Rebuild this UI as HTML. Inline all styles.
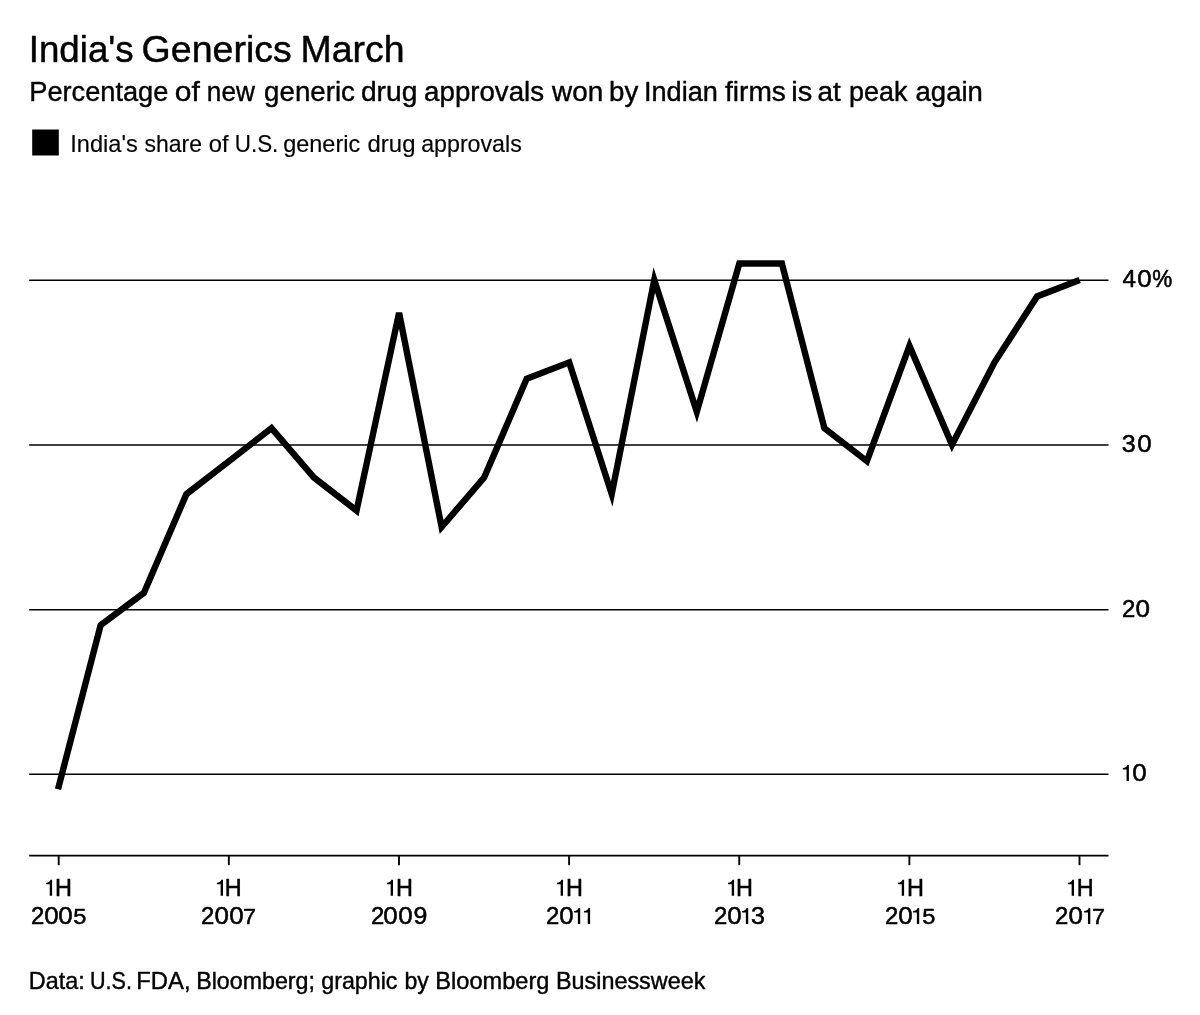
<!DOCTYPE html>
<html><head><meta charset="utf-8"><title>India's Generics March</title>
<style>
html,body{margin:0;padding:0;background:#fff;}
svg{display:block;will-change:transform;font-family:"Liberation Sans",sans-serif;fill:#000;}
text{stroke:#000;stroke-linejoin:round;}
</style></head><body>
<svg width="1200" height="1015" viewBox="0 0 1200 1015">
<rect width="1200" height="1015" fill="#fff"/>
<text x="28.74" y="61.70" font-size="37.2" stroke-width="0.45" textLength="104.97" lengthAdjust="spacingAndGlyphs">India&#x27;s</text>
<text x="141.64" y="61.70" font-size="37.2" stroke-width="0.45" textLength="150.19" lengthAdjust="spacingAndGlyphs">Generics</text>
<text x="300.45" y="61.70" font-size="37.2" stroke-width="0.45" textLength="104.06" lengthAdjust="spacingAndGlyphs">March</text>
<text x="29.27" y="100.90" font-size="26.8" stroke-width="0.4" textLength="139.04" lengthAdjust="spacingAndGlyphs">Percentage</text>
<text x="174.74" y="100.90" font-size="26.8" stroke-width="0.4" textLength="25.02" lengthAdjust="spacingAndGlyphs">of</text>
<text x="206.86" y="100.90" font-size="26.8" stroke-width="0.4" textLength="48.08" lengthAdjust="spacingAndGlyphs">new</text>
<text x="264.14" y="100.90" font-size="26.8" stroke-width="0.4" textLength="90.79" lengthAdjust="spacingAndGlyphs">generic</text>
<text x="360.92" y="100.90" font-size="26.8" stroke-width="0.4" textLength="56.40" lengthAdjust="spacingAndGlyphs">drug</text>
<text x="424.12" y="100.90" font-size="26.8" stroke-width="0.4" textLength="119.98" lengthAdjust="spacingAndGlyphs">approvals</text>
<text x="552.04" y="100.90" font-size="26.8" stroke-width="0.4" textLength="51.17" lengthAdjust="spacingAndGlyphs">won</text>
<text x="609.12" y="100.90" font-size="26.8" stroke-width="0.4" textLength="29.24" lengthAdjust="spacingAndGlyphs">by</text>
<text x="643.99" y="100.90" font-size="26.8" stroke-width="0.4" textLength="73.97" lengthAdjust="spacingAndGlyphs">Indian</text>
<text x="725.00" y="100.90" font-size="26.8" stroke-width="0.4" textLength="60.81" lengthAdjust="spacingAndGlyphs">firms</text>
<text x="791.36" y="100.90" font-size="26.8" stroke-width="0.4" textLength="20.99" lengthAdjust="spacingAndGlyphs">is</text>
<text x="817.52" y="100.90" font-size="26.8" stroke-width="0.4" textLength="23.18" lengthAdjust="spacingAndGlyphs">at</text>
<text x="849.06" y="100.90" font-size="26.8" stroke-width="0.4" textLength="58.40" lengthAdjust="spacingAndGlyphs">peak</text>
<text x="915.53" y="100.90" font-size="26.8" stroke-width="0.4" textLength="67.36" lengthAdjust="spacingAndGlyphs">again</text>
<text x="70.30" y="152.00" font-size="23.4" stroke-width="0.15" textLength="67.48" lengthAdjust="spacingAndGlyphs">India&#x27;s</text>
<text x="144.43" y="152.00" font-size="23.4" stroke-width="0.15" textLength="57.51" lengthAdjust="spacingAndGlyphs">share</text>
<text x="208.68" y="152.00" font-size="23.4" stroke-width="0.15" textLength="19.81" lengthAdjust="spacingAndGlyphs">of</text>
<text x="234.74" y="152.00" font-size="23.4" stroke-width="0.15" textLength="43.63" lengthAdjust="spacingAndGlyphs">U.S.</text>
<text x="283.19" y="152.00" font-size="23.4" stroke-width="0.15" textLength="76.95" lengthAdjust="spacingAndGlyphs">generic</text>
<text x="367.57" y="152.00" font-size="23.4" stroke-width="0.15" textLength="47.90" lengthAdjust="spacingAndGlyphs">drug</text>
<text x="421.19" y="152.00" font-size="23.4" stroke-width="0.15" textLength="100.57" lengthAdjust="spacingAndGlyphs">approvals</text>
<text x="28.89" y="988.70" font-size="23.2" stroke-width="0.4" textLength="55.74" lengthAdjust="spacingAndGlyphs">Data:</text>
<text x="90.04" y="988.70" font-size="23.2" stroke-width="0.4" textLength="41.93" lengthAdjust="spacingAndGlyphs">U.S.</text>
<text x="136.35" y="988.70" font-size="23.2" stroke-width="0.4" textLength="54.19" lengthAdjust="spacingAndGlyphs">FDA,</text>
<text x="196.19" y="988.70" font-size="23.2" stroke-width="0.4" textLength="118.79" lengthAdjust="spacingAndGlyphs">Bloomberg;</text>
<text x="321.22" y="988.70" font-size="23.2" stroke-width="0.4" textLength="76.29" lengthAdjust="spacingAndGlyphs">graphic</text>
<text x="404.42" y="988.70" font-size="23.2" stroke-width="0.4" textLength="24.33" lengthAdjust="spacingAndGlyphs">by</text>
<text x="435.36" y="988.70" font-size="23.2" stroke-width="0.4" textLength="114.06" lengthAdjust="spacingAndGlyphs">Bloomberg</text>
<text x="555.98" y="988.70" font-size="23.2" stroke-width="0.4" textLength="149.38" lengthAdjust="spacingAndGlyphs">Businessweek</text>
<rect x="32.2" y="129.5" width="26.6" height="26"/>
<g stroke="#000" stroke-width="1.5" fill="none"><line x1="29.2" x2="1108.5" y1="774.30" y2="774.30"/><line x1="29.2" x2="1108.5" y1="609.63" y2="609.63"/><line x1="29.2" x2="1108.5" y1="444.97" y2="444.97"/><line x1="29.2" x2="1108.5" y1="280.30" y2="280.30"/></g>
<g font-size="23" stroke-width="0.5"><text transform="translate(1122.49,287.00) scale(1.0526,1.0301)">4</text><text transform="translate(1137.34,287.00) scale(1.1278,1.0010)">0</text><text transform="translate(1152.25,287.00) scale(0.9781,1.0191)">%</text><text transform="translate(1121.69,452.20) scale(1.0913,1.0010)">3</text><text transform="translate(1137.34,452.20) scale(1.1278,1.0010)">0</text><text transform="translate(1121.95,617.00) scale(1.0403,1.0274)">2</text><text transform="translate(1135.44,617.00) scale(1.1278,1.0010)">0</text><path transform="translate(1122.80,781.00)" d="M3.75,0H6.1V-16H4.45C4.1,-14.2 2.5,-13.2 0,-13.1V-11.5H3.75Z"/><text transform="translate(1132.24,781.00) scale(1.1278,1.0010)">0</text></g>
<polyline points="58.00,789.20 100.63,625.17 143.87,592.93 186.40,494.11 228.93,461.17 271.47,428.23 314.00,477.64 356.53,510.58 399.07,312.94 441.60,527.05 484.13,477.64 526.67,378.82 569.20,362.35 611.73,494.11 654.27,280.00 696.80,411.76 739.33,263.53 781.87,263.53 824.40,428.23 866.93,461.17 909.47,345.88 952.00,444.70 994.53,362.35 1037.07,296.47 1079.60,280.00" fill="none" stroke="#000" stroke-width="6.4" stroke-linejoin="miter" stroke-miterlimit="4"/>
<line x1="29.2" x2="1108.5" y1="855.6" y2="855.6" stroke="#000" stroke-width="1.6"/><g stroke="#000" stroke-width="1.9" fill="none"><line x1="58.70" x2="58.70" y1="855" y2="865.2"/><line x1="228.83" x2="228.83" y1="855" y2="865.2"/><line x1="398.97" x2="398.97" y1="855" y2="865.2"/><line x1="569.10" x2="569.10" y1="855" y2="865.2"/><line x1="739.23" x2="739.23" y1="855" y2="865.2"/><line x1="909.37" x2="909.37" y1="855" y2="865.2"/><line x1="1079.50" x2="1079.50" y1="855" y2="865.2"/></g>
<g font-size="23" stroke-width="0.5"><path transform="translate(46.00,895.80)" d="M3.75,0H6.1V-16H4.45C4.1,-14.2 2.5,-13.2 0,-13.1V-11.5H3.75Z"/><text transform="translate(55.03,895.80) scale(1.0196,1.0364)">H</text><text transform="translate(31.05,924.00) scale(1.0403,1.0274)">2</text><text transform="translate(44.34,924.00) scale(1.1278,1.0010)">0</text><text transform="translate(58.14,924.00) scale(1.1278,1.0010)">0</text><text transform="translate(73.30,924.00) scale(1.0271,0.9783)">5</text><path transform="translate(216.90,895.80)" d="M3.75,0H6.1V-16H4.45C4.1,-14.2 2.5,-13.2 0,-13.1V-11.5H3.75Z"/><text transform="translate(224.83,895.80) scale(1.0196,1.0364)">H</text><text transform="translate(201.05,924.00) scale(1.0403,1.0274)">2</text><text transform="translate(214.44,924.00) scale(1.1278,1.0010)">0</text><text transform="translate(229.24,924.00) scale(1.1278,1.0010)">0</text><text transform="translate(242.95,924.00) scale(1.0138,0.9922)">7</text><path transform="translate(386.90,895.80)" d="M3.75,0H6.1V-16H4.45C4.1,-14.2 2.5,-13.2 0,-13.1V-11.5H3.75Z"/><text transform="translate(396.03,895.80) scale(1.0196,1.0364)">H</text><text transform="translate(371.05,924.00) scale(1.0403,1.0274)">2</text><text transform="translate(383.34,924.00) scale(1.1278,1.0010)">0</text><text transform="translate(398.24,924.00) scale(1.1278,1.0010)">0</text><text transform="translate(413.38,924.00) scale(1.0825,1.0010)">9</text><path transform="translate(556.90,895.80)" d="M3.75,0H6.1V-16H4.45C4.1,-14.2 2.5,-13.2 0,-13.1V-11.5H3.75Z"/><text transform="translate(566.03,895.80) scale(1.0196,1.0364)">H</text><text transform="translate(546.05,924.00) scale(1.0403,1.0274)">2</text><text transform="translate(559.34,924.00) scale(1.1278,1.0010)">0</text><path transform="translate(574.10,924.00)" d="M3.75,0H6.1V-16H4.45C4.1,-14.2 2.5,-13.2 0,-13.1V-11.5H3.75Z"/><path transform="translate(584.00,924.00)" d="M3.75,0H6.1V-16H4.45C4.1,-14.2 2.5,-13.2 0,-13.1V-11.5H3.75Z"/><path transform="translate(728.00,895.80)" d="M3.75,0H6.1V-16H4.45C4.1,-14.2 2.5,-13.2 0,-13.1V-11.5H3.75Z"/><text transform="translate(736.03,895.80) scale(1.0196,1.0364)">H</text><text transform="translate(714.05,924.00) scale(1.0403,1.0274)">2</text><text transform="translate(727.34,924.00) scale(1.1278,1.0010)">0</text><path transform="translate(742.10,924.00)" d="M3.75,0H6.1V-16H4.45C4.1,-14.2 2.5,-13.2 0,-13.1V-11.5H3.75Z"/><text transform="translate(750.99,924.00) scale(1.0913,1.0010)">3</text><path transform="translate(898.00,895.80)" d="M3.75,0H6.1V-16H4.45C4.1,-14.2 2.5,-13.2 0,-13.1V-11.5H3.75Z"/><text transform="translate(907.03,895.80) scale(1.0196,1.0364)">H</text><text transform="translate(885.05,924.00) scale(1.0403,1.0274)">2</text><text transform="translate(898.34,924.00) scale(1.1278,1.0010)">0</text><path transform="translate(913.10,924.00)" d="M3.75,0H6.1V-16H4.45C4.1,-14.2 2.5,-13.2 0,-13.1V-11.5H3.75Z"/><text transform="translate(922.30,924.00) scale(1.0271,0.9783)">5</text><path transform="translate(1067.90,895.80)" d="M3.75,0H6.1V-16H4.45C4.1,-14.2 2.5,-13.2 0,-13.1V-11.5H3.75Z"/><text transform="translate(1076.83,895.80) scale(1.0196,1.0364)">H</text><text transform="translate(1055.05,924.00) scale(1.0403,1.0274)">2</text><text transform="translate(1068.44,924.00) scale(1.1278,1.0010)">0</text><path transform="translate(1084.20,924.00)" d="M3.75,0H6.1V-16H4.45C4.1,-14.2 2.5,-13.2 0,-13.1V-11.5H3.75Z"/><text transform="translate(1091.95,924.00) scale(1.0138,0.9922)">7</text></g>
</svg>
</body></html>
